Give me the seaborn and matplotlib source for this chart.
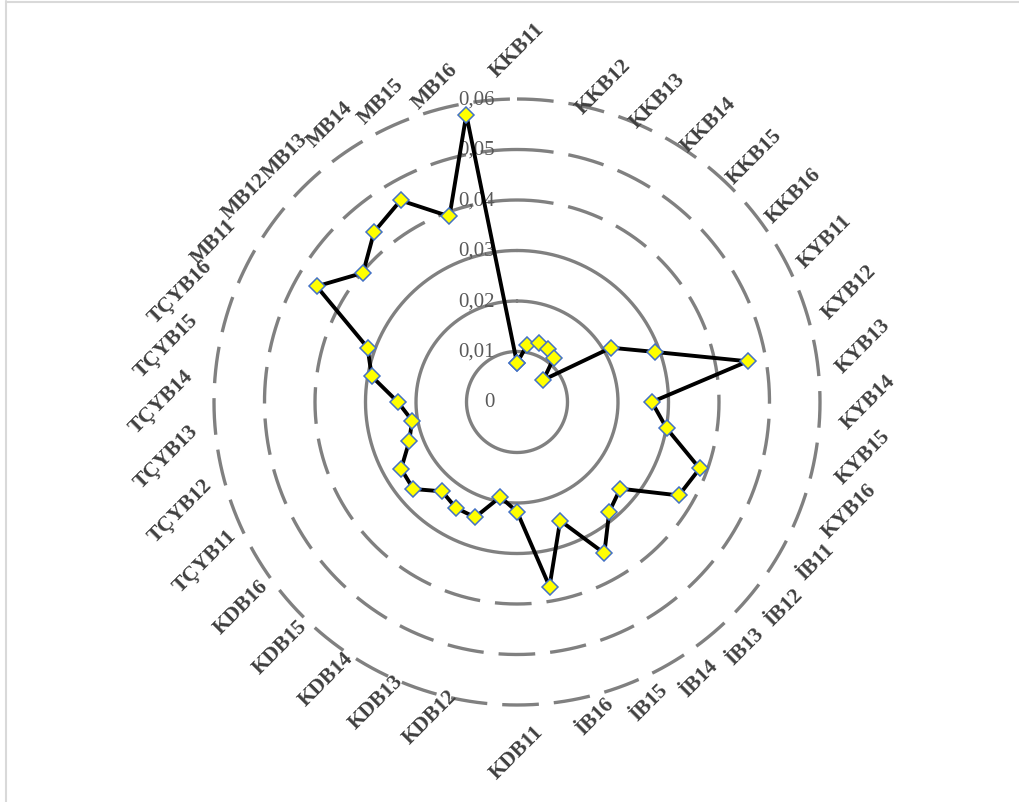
import numpy as np
import pandas as pd
import matplotlib
matplotlib.use("Agg")
import matplotlib.pyplot as plt
import matplotlib.transforms as mtransforms
from matplotlib.lines import Line2D
import seaborn as sns

# ---- data -------------------------------------------------------------
categories = [
    "KKB11", "KKB12", "KKB13", "KKB14", "KKB15", "KKB16",
    "KYB11", "KYB12", "KYB13", "KYB14", "KYB15", "KYB16",
    "İB11", "İB12", "İB13", "İB14", "İB15", "İB16",
    "KDB11", "KDB12", "KDB13", "KDB14", "KDB15", "KDB16",
    "TÇYB11", "TÇYB12", "TÇYB13", "TÇYB14", "TÇYB15", "TÇYB16",
    "MB11", "MB12", "MB13", "MB14", "MB15", "MB16",
]
values = [
    0.0077, 0.0115, 0.0125, 0.0122, 0.0113, 0.0068,
    0.0215, 0.0290, 0.0464, 0.0267, 0.0301, 0.0385,
    0.0370, 0.0267, 0.0284, 0.0346, 0.0250, 0.0371,
    0.0217, 0.0191, 0.0243, 0.0242, 0.0231, 0.0268,
    0.0265, 0.0227, 0.0211, 0.0236, 0.0292, 0.0315,
    0.0458, 0.0398, 0.0440, 0.0461, 0.0391, 0.0578,
]
ring_values = [0.01, 0.02, 0.03, 0.04, 0.05, 0.06]
tick_values = [0.0, 0.01, 0.02, 0.03, 0.04, 0.05, 0.06]
tick_labels = ["0", "0,01", "0,02", "0,03", "0,04", "0,05", "0,06"]

# ---- style ------------------------------------------------------------
sns.set_theme(style="white")
plt.rcParams["font.family"] = ["Liberation Serif", "DejaVu Serif"]

W, H = 1020, 802
fig = plt.figure(figsize=(W / 100, H / 100), dpi=100)
fig.patch.set_facecolor("white")

# chart-area frame (left and top edges)
fig.add_artist(Line2D([6 / W, 6 / W], [0, 1 - 1 / H], color="#d9d9d9", lw=1.5))
fig.add_artist(Line2D([6 / W, 1], [1 - 1.5 / H, 1 - 1.5 / H], color="#d9d9d9", lw=1.5))

cx, cy, R = 517, 402, 303           # plot centre and outer radius in pixels
ax = fig.add_axes([(cx - R) / W, (H - cy - R) / H, 2 * R / W, 2 * R / H],
                  projection="polar")
ax.set_theta_zero_location("N")
ax.set_theta_direction(-1)
ax.set_ylim(0, 0.06)
ax.grid(False)
ax.spines["polar"].set_visible(False)
ax.set_xticks([])
ax.set_yticks([])
ax.patch.set_alpha(0)

# ---- gridline rings: inner ones solid, outer ones long-dashed ---------
ring_theta = np.linspace(0, 2 * np.pi, 1441)
for rv in ring_values:
    ls = "-" if rv <= 0.03 + 1e-9 else (0, (11, 4.5))
    ax.plot(ring_theta, np.full_like(ring_theta, rv), color="#808080",
            lw=2.4, ls=ls, clip_on=False, zorder=1)

# ---- radial value labels ---------------------------------------------
tick_trans = mtransforms.offset_copy(ax.transData, fig=fig, x=-22, y=-1,
                                     units="dots")
for tv, tl in zip(tick_values, tick_labels):
    ax.text(0, tv, tl, transform=tick_trans, ha="right", va="center",
            fontsize=15, color="#595959", zorder=2, clip_on=False)

# ---- series -----------------------------------------------------------
n = len(categories)
theta = np.arange(n) * 2 * np.pi / n
df = pd.DataFrame({
    "theta": np.append(theta, 2 * np.pi),
    "value": values + values[:1],
})
sns.lineplot(data=df, x="theta", y="value", sort=False, estimator=None,
             color="black", lw=2.8, marker="D", markersize=8,
             markerfacecolor="#FFFF00", markeredgecolor="#4472C4",
             markeredgewidth=1.1, ax=ax, zorder=5, clip_on=False)
ax.set_xlabel("")
ax.set_ylabel("")

# ---- category labels, rotated 45 degrees around the rim --------------
label_texts = []
for cat in categories:
    t = fig.text(0, 0, cat, rotation=45, ha="center", va="center",
                 fontsize=15.5, fontweight="bold", color="#404040",
                 transform=mtransforms.IdentityTransform())
    label_texts.append(t)

fig.canvas.draw()
renderer = fig.canvas.get_renderer()
c_disp = ax.transData.transform((0, 0))
R_lab = 320
for t, th in zip(label_texts, theta):
    bb = t.get_window_extent(renderer)
    w, h = bb.width, bb.height
    ux, uy = np.sin(th), np.cos(th)
    px = c_disp[0] + R_lab * ux
    py = c_disp[1] + R_lab * uy
    if abs(ux) > 1e-6:
        px += np.sign(ux) * w / 2
    else:
        py += np.sign(uy) * h / 2
    t.set_position((px, py))

fig.savefig("out.png", dpi=100, facecolor="white")
